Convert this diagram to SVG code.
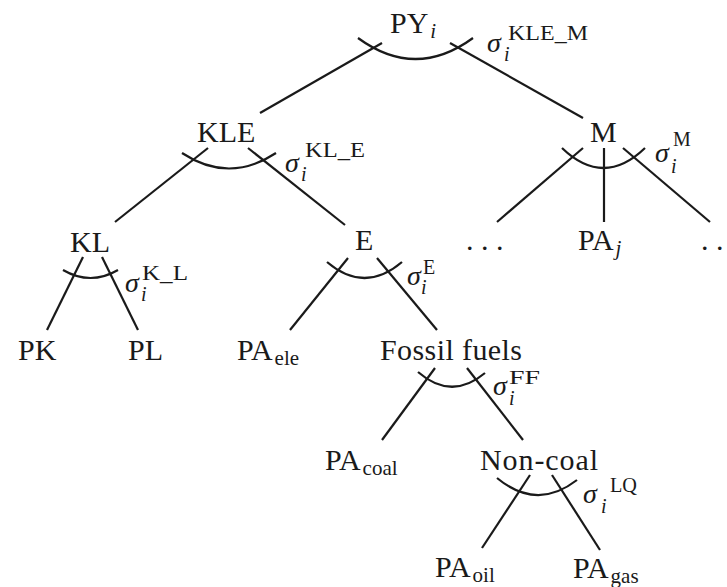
<svg xmlns="http://www.w3.org/2000/svg" width="727" height="587" viewBox="0 0 727 587">
<style>
text{font-family:"Liberation Serif","DejaVu Serif",serif;fill:#1a1a1a}
.n{font-size:30px}
.sub{font-size:21px}
.it{font-style:italic}
.sg{font-size:28px;font-style:italic}
.si{font-size:20px;font-style:italic}
.sp{font-size:20px}
.c line,.c path{stroke:#1a1a1a;stroke-width:2.2;fill:none;stroke-linecap:butt}
</style>
<rect width="727" height="587" fill="#fff"/>
<g class="c" id="connectors">
<path d="M358,38 Q415.5,80 473,38"/>
<line x1="382" y1="43" x2="260" y2="113"/>
<line x1="450" y1="43" x2="583" y2="118"/>
<path d="M182,153 Q229,184 276,153"/>
<line x1="208" y1="148" x2="115" y2="222"/>
<line x1="248" y1="148" x2="345" y2="225"/>
<path d="M562,148 Q603.5,188 645,148"/>
<line x1="583" y1="148" x2="497" y2="222"/>
<line x1="604" y1="148" x2="604" y2="222"/>
<line x1="623" y1="148" x2="710" y2="222"/>
<path d="M63,270 Q90.5,286 118,270"/>
<line x1="83" y1="257" x2="47" y2="330"/>
<line x1="102" y1="257" x2="138" y2="330"/>
<path d="M327,262 Q364.5,294 402,262"/>
<line x1="348" y1="258" x2="290" y2="330"/>
<line x1="377" y1="258" x2="437" y2="330"/>
<path d="M418,372 Q451.5,401 485,373"/>
<line x1="435" y1="368" x2="382" y2="440"/>
<line x1="467" y1="368" x2="523" y2="440"/>
<path d="M497,478 Q537,511 577,480"/>
<line x1="530" y1="475" x2="482" y2="548"/>
<line x1="552" y1="475" x2="600" y2="550"/>
</g>
<g id="PY"><text class="n" x="390" y="33">PY<tspan class="sub it" dx="2" dy="5">i</tspan></text></g>
<g id="sigma-KLE-M"><text class="sg" x="487" y="52">σ</text><text class="si" x="504" y="61">i</text><text class="sp" x="508" y="40" textLength="80" lengthAdjust="spacingAndGlyphs">KLE_M</text></g>
<g id="KLE"><text class="n" x="197" y="142">KLE</text></g>
<g id="sigma-KL-E"><text class="sg" x="285" y="172">σ</text><text class="si" x="301" y="181">i</text><text class="sp" x="305" y="157" textLength="60" lengthAdjust="spacingAndGlyphs">KL_E</text></g>
<g id="M"><text class="n" x="590" y="142">M</text></g>
<g id="sigma-M"><text class="sg" x="655" y="162">σ</text><text class="si" x="671" y="173">i</text><text class="sp" x="673" y="146">M</text></g>
<g id="KL"><text class="n" x="70" y="252">KL</text></g>
<g id="sigma-K-L"><text class="sg" x="125" y="292">σ</text><text class="si" x="141" y="301">i</text><text class="sp" x="142" y="280" textLength="46" lengthAdjust="spacingAndGlyphs">K_L</text></g>
<g id="E"><text class="n" x="355" y="250">E</text></g>
<g id="sigma-E"><text class="sg" x="407" y="285">σ</text><text class="si" x="421" y="294">i</text><text class="sp" x="423" y="274">E</text></g>
<g id="dots-left"><text class="n" x="466" y="250">. . .</text></g>
<g id="PAj"><text class="n" x="578" y="250">PA<tspan class="sub it" dx="2" dy="5">j</tspan></text></g>
<g id="dots-right"><text class="n" x="701" y="250">. . .</text></g>
<g id="PK"><text class="n" x="18" y="360">PK</text></g>
<g id="PL"><text class="n" x="128" y="360">PL</text></g>
<g id="PAele"><text class="n" x="237" y="360">PA<tspan class="sub" dx="2" dy="5">ele</tspan></text></g>
<g id="Fossil"><text class="n" x="380" y="360" textLength="142">Fossil fuels</text></g>
<g id="sigma-FF"><text class="sg" x="493" y="395">σ</text><text class="si" x="509" y="405">i</text><text class="sp" x="509" y="384" textLength="31" lengthAdjust="spacingAndGlyphs" style="font-size:19px">FF</text></g>
<g id="PAcoal"><text class="n" x="325" y="470">PA<tspan class="sub" dx="2" dy="5">coal</tspan></text></g>
<g id="Noncoal"><text class="n" x="480" y="470" textLength="118">Non-coal</text></g>
<g id="sigma-LQ"><text class="sg" x="583" y="503">σ</text><text class="si" x="601" y="513">i</text><text class="sp" x="610" y="492" textLength="27" lengthAdjust="spacingAndGlyphs">LQ</text></g>
<g id="PAoil"><text class="n" x="435" y="577">PA<tspan class="sub" dx="2" dy="5">oil</tspan></text></g>
<g id="PAgas"><text class="n" x="573" y="578">PA<tspan class="sub" dx="2" dy="5">gas</tspan></text></g>
</svg>
